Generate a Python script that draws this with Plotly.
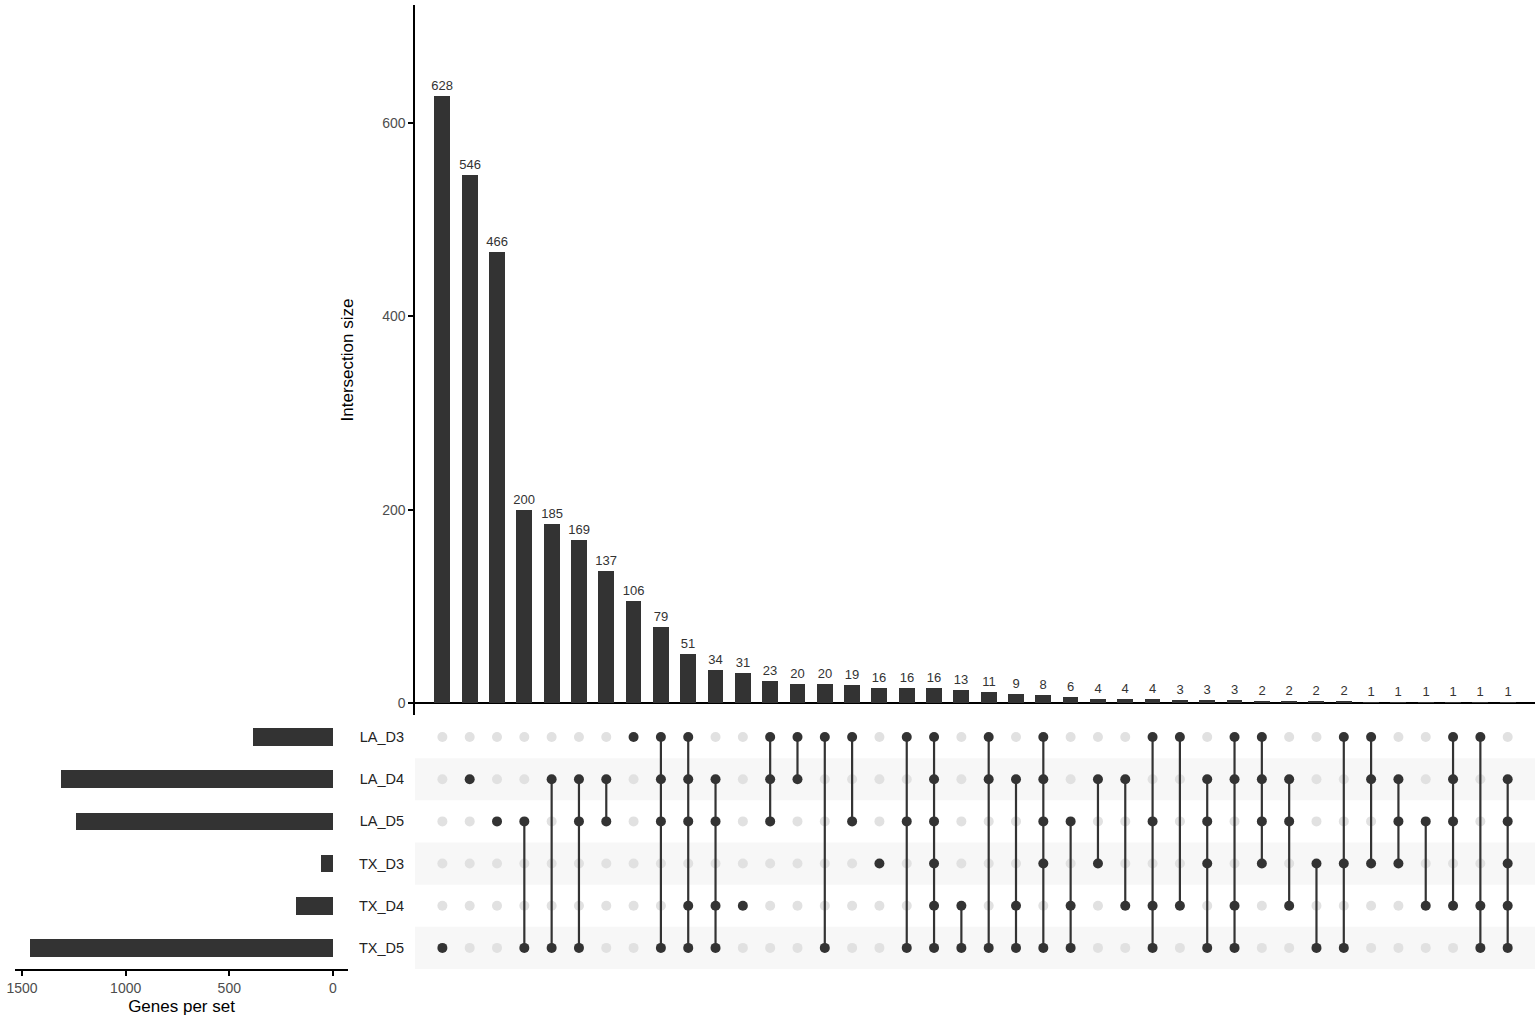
import plotly.graph_objects as go

# sets (rows of the matrix, top to bottom) and their sizes
sets = ["LA_D3", "LA_D4", "LA_D5", "TX_D3", "TX_D4", "TX_D5"]
set_sizes = [386, 1310, 1239, 56, 180, 1461]

# intersections, ordered by size
intersection_sizes = [628, 546, 466, 200, 185, 169, 137, 106, 79, 51, 34, 31, 23, 20, 20,
                      19, 16, 16, 16, 13, 11, 9, 8, 6, 4, 4, 4, 3, 3, 3, 2, 2, 2, 2,
                      1, 1, 1, 1, 1, 1]

intersection_members = [
    ["TX_D5"],
    ["LA_D4"],
    ["LA_D5"],
    ["LA_D5", "TX_D5"],
    ["LA_D4", "TX_D5"],
    ["LA_D4", "LA_D5", "TX_D5"],
    ["LA_D4", "LA_D5"],
    ["LA_D3"],
    ["LA_D3", "LA_D4", "LA_D5", "TX_D5"],
    ["LA_D3", "LA_D4", "LA_D5", "TX_D4", "TX_D5"],
    ["LA_D4", "LA_D5", "TX_D4", "TX_D5"],
    ["TX_D4"],
    ["LA_D3", "LA_D4", "LA_D5"],
    ["LA_D3", "LA_D4"],
    ["LA_D3", "TX_D5"],
    ["LA_D3", "LA_D5"],
    ["TX_D3"],
    ["LA_D3", "LA_D5", "TX_D5"],
    ["LA_D3", "LA_D4", "LA_D5", "TX_D3", "TX_D4", "TX_D5"],
    ["TX_D4", "TX_D5"],
    ["LA_D3", "LA_D4", "TX_D5"],
    ["LA_D4", "TX_D4", "TX_D5"],
    ["LA_D3", "LA_D4", "LA_D5", "TX_D3", "TX_D5"],
    ["LA_D5", "TX_D4", "TX_D5"],
    ["LA_D4", "TX_D3"],
    ["LA_D4", "TX_D4"],
    ["LA_D3", "LA_D5", "TX_D4", "TX_D5"],
    ["LA_D3", "TX_D4"],
    ["LA_D4", "LA_D5", "TX_D3", "TX_D5"],
    ["LA_D3", "LA_D4", "TX_D4", "TX_D5"],
    ["LA_D3", "LA_D4", "LA_D5", "TX_D3"],
    ["LA_D4", "LA_D5", "TX_D4"],
    ["TX_D3", "TX_D5"],
    ["LA_D3", "TX_D3", "TX_D5"],
    ["LA_D3", "LA_D4", "TX_D3"],
    ["LA_D4", "LA_D5", "TX_D3"],
    ["LA_D5", "TX_D4"],
    ["LA_D3", "LA_D4", "LA_D5", "TX_D4"],
    ["LA_D3", "TX_D4", "TX_D5"],
    ["LA_D4", "LA_D5", "TX_D3", "TX_D4", "TX_D5"],
]

DARK = "#333333"
EMPTY = "#e1e1e1"
FONT = "Liberation Sans, Arial, sans-serif"

n_cols = len(intersection_sizes)
cols = list(range(n_cols))
row_of = {s: i for i, s in enumerate(sets)}

# matrix points
on_x, on_y, off_x, off_y = [], [], [], []
line_x, line_y = [], []
for c, members in enumerate(intersection_members):
    rows = [row_of[m] for m in members]
    for r in range(len(sets)):
        if r in rows:
            on_x.append(c)
            on_y.append(r)
        else:
            off_x.append(c)
            off_y.append(r)
    if len(rows) > 1:
        line_x += [c, c, None]
        line_y += [min(rows), max(rows), None]

fig = go.Figure()

# intersection size bars
fig.add_trace(go.Bar(
    x=cols, y=intersection_sizes,
    text=[str(v) for v in intersection_sizes],
    textposition="outside", cliponaxis=False, constraintext="none",
    textfont=dict(size=13, color=DARK, family=FONT),
    marker=dict(color=DARK, line=dict(width=0)),
    width=0.58, xaxis="x", yaxis="y", showlegend=False,
))

# matrix: empty dots, connecting lines, filled dots
fig.add_trace(go.Scatter(
    x=off_x, y=off_y, mode="markers",
    marker=dict(size=10, color=EMPTY),
    xaxis="x2", yaxis="y2", showlegend=False,
))
fig.add_trace(go.Scatter(
    x=line_x, y=line_y, mode="lines",
    line=dict(color=DARK, width=2.2),
    xaxis="x2", yaxis="y2", showlegend=False,
))
fig.add_trace(go.Scatter(
    x=on_x, y=on_y, mode="markers",
    marker=dict(size=10, color=DARK),
    xaxis="x2", yaxis="y2", showlegend=False,
))

# set size bars
fig.add_trace(go.Bar(
    x=set_sizes, y=list(range(len(sets))), orientation="h",
    marker=dict(color=DARK, line=dict(width=0)),
    width=0.42, xaxis="x3", yaxis="y3", showlegend=False,
))

# row stripes
shapes = []
for r in range(1, len(sets), 2):
    shapes.append(dict(
        type="rect", xref="x2 domain", yref="y2",
        x0=0, x1=1, y0=r - 0.5, y1=r + 0.5,
        fillcolor="#f7f7f7", line=dict(width=0), layer="below",
    ))

tick_font = dict(size=14, color="#4d4d4d", family=FONT)
main_dom = [0.2632, 1]

fig.update_layout(
    width=1535, height=1031,
    margin=dict(l=15, r=0, t=5, b=62, autoexpand=False),
    paper_bgcolor="white", plot_bgcolor="rgba(0,0,0,0)",
    font=dict(family=FONT, color=DARK),
    bargap=0,
    shapes=shapes,
    xaxis=dict(domain=main_dom, range=[-1, n_cols], anchor="y", automargin=False,
               showticklabels=False, showgrid=False, zeroline=False, ticks=""),
    yaxis=dict(domain=[0.2635, 1], range=[-12.4, 722], anchor="x", automargin=False,
               tickvals=[0, 200, 400, 600], ticks="outside", ticklen=5,
               tickwidth=1.5, tickcolor="black", tickfont=tick_font,
               showline=True, linecolor="black", linewidth=1.5,
               showgrid=False, zeroline=True, zerolinecolor="black",
               zerolinewidth=2,
               title=dict(text="Intersection size", standoff=24,
                          font=dict(size=17, color="black", family=FONT))),
    xaxis2=dict(domain=main_dom, range=[-1, n_cols], anchor="y2", automargin=False,
                showticklabels=False, showgrid=False, zeroline=False, ticks=""),
    yaxis2=dict(domain=[0, 0.2625], range=[len(sets) - 0.5, -0.5], anchor="x2",
                automargin=False,
                tickvals=list(range(len(sets))), ticktext=sets, ticks="",
                ticklabelstandoff=10,
                tickfont=dict(size=14.5, color="#222222", family=FONT),
                showgrid=False, zeroline=False, showline=False),
    xaxis3=dict(domain=[0, 0.2191], range=[1534, -73], anchor="y3", automargin=False,
                tickvals=[0, 500, 1000, 1500], ticks="outside", ticklen=5,
                tickwidth=1.5, tickcolor="black", tickfont=tick_font,
                showline=True, linecolor="black", linewidth=1.5,
                showgrid=False, zeroline=False,
                title=dict(text="Genes per set", standoff=6,
                           font=dict(size=17, color="black", family=FONT))),
    yaxis3=dict(domain=[0, 0.2625], range=[len(sets) - 0.5, -0.5], anchor="x3",
                automargin=False,
                showticklabels=False, ticks="", showgrid=False,
                zeroline=False, showline=False),
)

# the page body has a default 8px margin; remove it so the figure sits at 0,0
fig.write_html("out.html", config={"displayModeBar": False},
               post_script="document.body.style.margin='0px';")
